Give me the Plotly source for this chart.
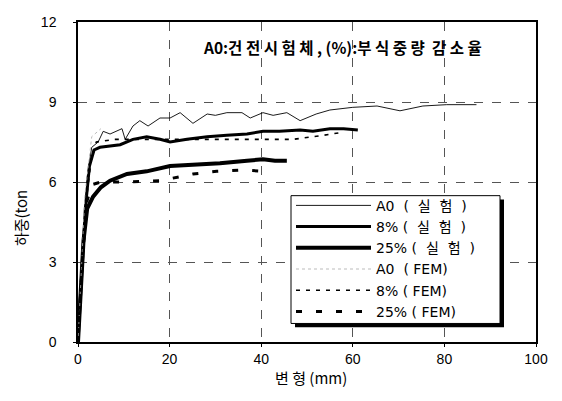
import plotly.graph_objects as go

# A0 test (thin)
a0_x = [0, 1, 2, 3, 4.4, 5.5, 7, 9.6, 10.3, 12, 13.5, 15.3, 17.9, 20.1, 22.3, 25.1, 28.2, 30, 32.5, 35.8, 37.6, 40.4, 42.6, 45.6, 48.5, 52, 55, 60, 65.3, 70.3, 75.3, 80.5, 87]
a0_y = [0, 3.5, 6.2, 7.3, 7.5, 7.9, 7.8, 8.0, 7.6, 8.1, 8.3, 8.1, 8.4, 8.4, 8.6, 8.2, 8.55, 8.5, 8.6, 8.6, 8.4, 8.6, 8.5, 8.6, 8.3, 8.55, 8.7, 8.8, 8.85, 8.67, 8.85, 8.9, 8.9]
# 8% test (thick)
p8_x = [0, 0.8, 1.6, 2.5, 3.5, 4.8, 9.2, 12, 15, 17.9, 20.1, 23.8, 28.2, 32.5, 36.9, 40.4, 44, 48.5, 51.3, 55, 58, 61.1]
p8_y = [0, 2.5, 5.0, 6.6, 7.2, 7.3, 7.4, 7.6, 7.7, 7.6, 7.5, 7.6, 7.7, 7.75, 7.8, 7.9, 7.9, 7.95, 7.9, 8.0, 8.0, 7.95]
# 25% test (thickest)
p25_x = [0, 0.5, 1.2, 2, 3.3, 5, 7, 10.7, 15, 20.1, 25.1, 31, 36.9, 40.4, 43, 45.6]
p25_y = [0, 1.8, 3.8, 5.0, 5.45, 5.8, 6.05, 6.3, 6.4, 6.6, 6.65, 6.7, 6.8, 6.85, 6.8, 6.8]
# A0 FEM (dotted, faint)
a0f_x = [0, 1.5, 3, 5]
a0f_y = [0, 5.5, 7.7, 8.0]
# 8% FEM (dashed)
p8f_x = [0, 1, 2, 3, 4, 8, 15, 20, 27, 33.8, 40.4, 47, 53.5, 57.2]
p8f_y = [0, 3.0, 5.6, 7.0, 7.5, 7.6, 7.6, 7.6, 7.6, 7.6, 7.6, 7.6, 7.75, 7.85]
# 25% FEM (long dash, thick)
p25f_x = [0, 1, 2, 3, 5, 10, 18, 25.1, 30.3, 36, 41]
p25f_y = [0, 3.2, 5.3, 5.9, 6.0, 6.0, 6.05, 6.3, 6.4, 6.45, 6.4]

NB = "\u00a0"
names = [f"A0{NB}{NB}({NB}{NB}실{NB}{NB}험{NB}{NB})", f"8%{NB}({NB}{NB}실{NB}{NB}험{NB}{NB})", f"25%{NB}({NB}{NB}실{NB}{NB}험{NB}{NB})",
         f"A0{NB}{NB}({NB}FEM)", f"8%{NB}({NB}FEM)", f"25%{NB}({NB}FEM)"]

x_ticks = [0, 20, 40, 60, 80, 100]
y_ticks = [0, 3, 6, 9, 12]

fig = go.Figure()
fig.add_trace(go.Scatter(x=a0_x, y=a0_y, mode="lines", name=names[0], line=dict(color="black", width=0.9)))
fig.add_trace(go.Scatter(x=p8_x, y=p8_y, mode="lines", name=names[1], line=dict(color="black", width=3)))
fig.add_trace(go.Scatter(x=p25_x, y=p25_y, mode="lines", name=names[2], line=dict(color="black", width=4)))
fig.add_trace(go.Scatter(x=a0f_x, y=a0f_y, mode="lines", name=names[3], line=dict(color="#aaa", width=0.8, dash="dot")))
fig.add_trace(go.Scatter(x=p8f_x, y=p8f_y, mode="lines", name=names[4], line=dict(color="black", width=1.6, dash="4px,6px")))
fig.add_trace(go.Scatter(x=p25f_x, y=p25f_y, mode="lines", name=names[5], line=dict(color="black", width=3, dash="6px,14px")))

# page is offset by the 8px body margin
OFF = 8
W, H = 562 - OFF, 401 - OFF
L, T = 78 - OFF, 14 - OFF
R = W - (536 - OFF)
B = H - (342 - OFF)
pw, ph = W - L - R, H - T - B

def px(xp):
    return (xp - OFF - L) / pw

def py(yp):
    return (H - B - (yp - OFF)) / ph

fig.update_layout(
    width=W, height=H,
    margin=dict(l=L, r=R, t=T, b=B),
    paper_bgcolor="white", plot_bgcolor="white",
    font=dict(family="Liberation Sans, Noto Sans CJK KR", color="black", size=14),
    showlegend=True,
    legend=dict(
        x=px(291), y=py(186), xanchor="left", yanchor="top",
        bgcolor="rgba(0,0,0,0)", borderwidth=0,
        font=dict(size=14, family="DejaVu Sans, Noto Sans CJK KR"),
        itemwidth=75, tracegroupgap=0,
    ),
)
fig.update_xaxes(
    range=[0, 100], tickvals=x_ticks, showgrid=True, gridcolor="#555", griddash="dash", gridwidth=1,
    showline=True, linecolor="black", linewidth=1.5, mirror=True, zeroline=False,
    ticks="outside", ticklen=3, tickcolor="black", tickfont=dict(size=14), ticklabeloverflow="allow",
)
fig.update_yaxes(
    range=[0, 12], tickvals=y_ticks, showgrid=True, gridcolor="#555", griddash="dash", gridwidth=1,
    showline=True, linecolor="black", linewidth=1.5, mirror=True, zeroline=False,
    ticks="outside", ticklen=3, tickcolor="black", tickfont=dict(size=14), ticklabelstandoff=14,
    ticklabeloverflow="allow",
)

fig.add_annotation(x=px(342), y=py(40), xref="paper", yref="paper", showarrow=False,
                   xanchor="center", yanchor="middle",
                   text="<b>A0:건 전 시 험 체 , (%):부 식 중 량  감 소 율</b>",
                   font=dict(size=15.5, family="Noto Sans CJK KR, Liberation Sans"))
fig.add_annotation(x=px(20), y=py(215), xref="paper", yref="paper", showarrow=False, textangle=-90,
                   xanchor="center", yanchor="middle",
                   text="하중(ton", font=dict(size=15, family="Noto Sans CJK KR, Liberation Sans"))
fig.add_annotation(x=px(311), y=py(378), xref="paper", yref="paper", showarrow=False,
                   xanchor="center", yanchor="middle",
                   text="변 형 (mm)", font=dict(size=15, family="Noto Sans CJK KR, Liberation Sans"))

# legend frame with drop shadow (legend itself drawn transparent on top)
fig.add_shape(type="rect", xref="paper", yref="paper", layer="above",
              x0=px(295), x1=px(504), y0=py(196), y1=py(327),
              fillcolor="black", line=dict(width=0))
fig.add_shape(type="rect", xref="paper", yref="paper", layer="above",
              x0=px(291), x1=px(500), y0=py(192), y1=py(323),
              fillcolor="white", line=dict(color="black", width=1))

fig.write_html("out.html")
